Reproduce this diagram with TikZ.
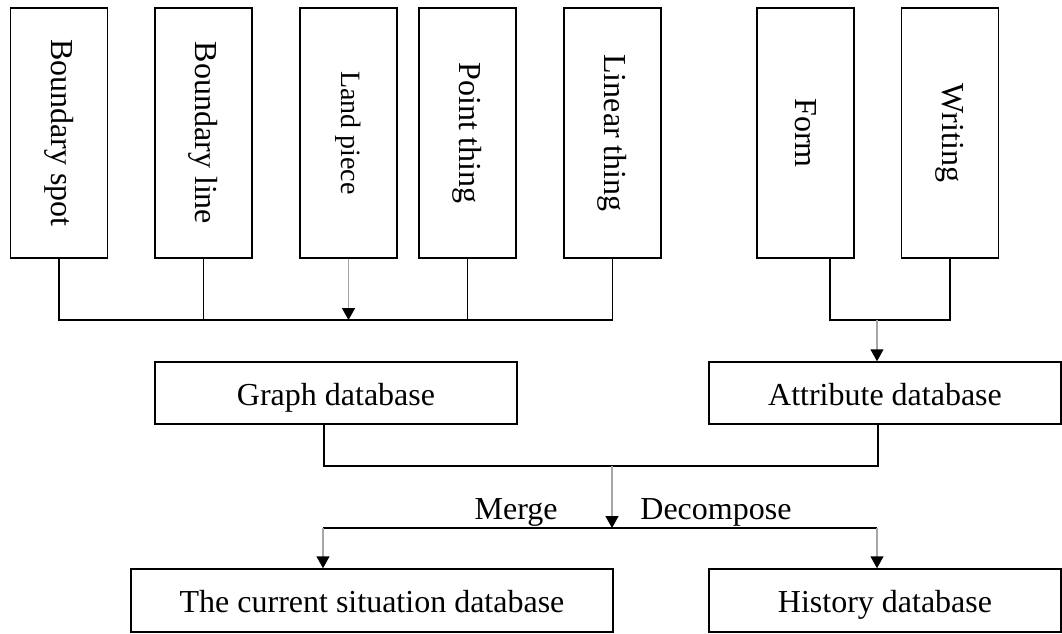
\documentclass[tikz,border=0pt]{standalone}
\usepackage{fontspec}
\setmainfont{Liberation Serif}
\usetikzlibrary{arrows.meta}

\begin{document}
\begin{tikzpicture}[x=0.5pt,y=-0.5pt,
  >={Triangle[length=6pt,width=6.5pt,color=black]},
  tallbox/.style={draw,line width=0.75pt,minimum width=48.5pt,minimum height=125pt,inner sep=0pt,font=\fontsize{16}{18}\selectfont},
  dbbox/.style={draw,line width=0.75pt,minimum height=31pt,inner sep=0pt,text height=14pt,text depth=2pt,font=\fontsize{16}{18}\selectfont},
  wire/.style={line width=0.75pt},
  garrow/.style={->,line width=0.75pt,black!35},
  tag/.style={inner sep=0pt,font=\fontsize{16}{18}\selectfont}]
  \useasboundingbox (0,0) rectangle (1062,633);
  % source boxes
  \node[tallbox] (bspot) at (59,133) {\rotatebox{-90}{Boundary spot}};
  \node[tallbox] (bline) at (203.5,133) {\rotatebox{-90}{Boundary line}};
  \node[tallbox,font=\fontsize{14}{16}\selectfont] (lpiece) at (348.5,133) {\rotatebox{-90}{Land piece}};
  \node[tallbox] (pthing) at (467.5,133) {\rotatebox{-90}{Point thing}};
  \node[tallbox] (lthing) at (612.5,133) {\rotatebox{-90}{Linear thing}};
  \node[tallbox] (form) at (805.5,133) {\rotatebox{-90}{Form}};
  \node[tallbox] (writing) at (950,133) {\rotatebox{-90}{Writing}};
  % databases
  \node[dbbox,minimum width=181pt] (graphdb) at (336,393) {Graph database};
  \node[dbbox,minimum width=176pt] (attrdb) at (885,393) {Attribute database};
  \node[dbbox,minimum width=241pt,minimum height=31.5pt] (curdb) at (372,600.5) {The current situation database};
  \node[dbbox,minimum width=176pt,minimum height=31.5pt] (histdb) at (885,600.5) {History database};
  % graph bus
  \coordinate (bus1) at (0,320);
  \draw[wire] (bspot.south) |- (lthing.south |- bus1) -- (lthing.south);
  \draw[wire] (bline.south) -- (bline.south |- bus1);
  \draw[wire] (pthing.south) -- (pthing.south |- bus1);
  \draw[garrow] (lpiece.south) -- (lpiece.south |- bus1);
  % attribute bus
  \coordinate (formout) at ([xshift=12.25pt]form.south);
  \draw[wire] (formout) |- (writing.south |- bus1) -- (writing.south);
  \coordinate (bus2) at (877,320);
  \draw[garrow] (bus2) -- (bus2 |- attrdb.north);
  % merge / decompose
  \coordinate (graphout) at ([xshift=-6pt]graphdb.south);
  \coordinate (attrout) at ([xshift=-3.5pt]attrdb.south);
  \coordinate (bus3) at (0,466);
  \draw[wire] (graphout) |- (attrout |- bus3) -- (attrout);
  \coordinate (split) at (612,466);
  \coordinate (bus4) at (612,528);
  \draw[garrow] (split) -- (bus4);
  \coordinate (mergeend) at (323,528);
  \coordinate (decend) at (877,528);
  \draw[wire] (mergeend) -- (decend);
  \draw[garrow] (mergeend) -- (mergeend |- curdb.north);
  \draw[garrow] (decend) -- (decend |- histdb.north);
  \node[tag,anchor=base east] (merge) at (558,519) {Merge};
  \node[tag,anchor=base west] (decomp) at (640,519) {Decompose};
\end{tikzpicture}
\end{document}
